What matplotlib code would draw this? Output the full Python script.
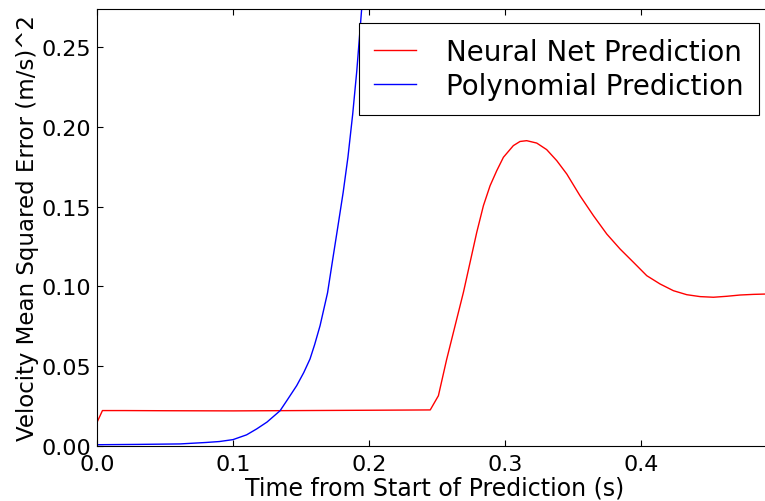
import matplotlib
matplotlib.use("Agg")
import matplotlib.pyplot as plt

# Neural net prediction error
nn_t = [0.0, 0.004, 0.02, 0.05, 0.1, 0.15, 0.2, 0.245, 0.251, 0.257, 0.2645, 0.2694,
        0.2743, 0.2792, 0.2841, 0.2890, 0.2939, 0.2988, 0.3061, 0.3110, 0.3159, 0.3233,
        0.3306, 0.3380, 0.3454, 0.3551, 0.3650, 0.3748, 0.3846, 0.3944, 0.4042, 0.4140,
        0.4238, 0.4336, 0.4434, 0.4532, 0.4630, 0.4728, 0.4826, 0.4912, 0.497]
nn_v = [0.0148, 0.0222, 0.0222, 0.0221, 0.0220, 0.0222, 0.0224, 0.0226, 0.0315, 0.054,
        0.0796, 0.0963, 0.1151, 0.1339, 0.1506, 0.1631, 0.1725, 0.1809, 0.1882, 0.1908,
        0.1913, 0.1898, 0.1857, 0.1788, 0.1704, 0.1568, 0.1443, 0.1328, 0.1234, 0.1151,
        0.1067, 0.1015, 0.0973, 0.0948, 0.0936, 0.0932, 0.0938, 0.0946, 0.0950, 0.0952,
        0.0953]

# Polynomial prediction error
poly_t = [0.0, 0.03, 0.061, 0.08, 0.09, 0.1, 0.11, 0.1174, 0.125, 0.1346, 0.14, 0.1468,
          0.152, 0.1566, 0.160, 0.164, 0.1695, 0.1735, 0.177, 0.181, 0.1845, 0.188, 0.191,
          0.1946, 0.198]
poly_v = [0.0008, 0.001, 0.0013, 0.0022, 0.0028, 0.004, 0.007, 0.0107, 0.0150, 0.0221,
          0.029, 0.0378, 0.046, 0.0545, 0.0635, 0.0754, 0.0960, 0.118, 0.137, 0.159,
          0.181, 0.208, 0.235, 0.274, 0.31]

labels = ["Neural Net Prediction", "Polynomial Prediction"]
xticks = [0.0, 0.1, 0.2, 0.3, 0.4]
xticklabels = ["0.0", "0.1", "0.2", "0.3", "0.4"]
yticks = [0.0, 0.05, 0.10, 0.15, 0.20, 0.25]
yticklabels = ["0.00", "0.05", "0.10", "0.15", "0.20", "0.25"]

plt.rcParams.update({
    "xtick.direction": "in", "ytick.direction": "in",
    "xtick.top": True, "ytick.right": True,
    "xtick.major.size": 4, "ytick.major.size": 4,
    "xtick.major.pad": 6, "ytick.major.pad": 4,
    "axes.edgecolor": "black",
})

fig = plt.figure(figsize=(7.65, 5.02), dpi=100)
ax = fig.add_axes([97/765, 55/502, 676/765, 437/502])
ax.plot(nn_t, nn_v, color="#ff0000", lw=1, label=labels[0])
ax.plot(poly_t, poly_v, color="#0000ff", lw=1, label=labels[1])
ax.set_xlim(0, 0.497)
ax.set_ylim(0, 0.2738)
ax.set_xticks(xticks)
ax.set_xticklabels(xticklabels)
ax.set_yticks(yticks)
ax.set_yticklabels(yticklabels)
ax.tick_params(labelsize=16)
ax.set_xlabel("Time from Start of Prediction (s)", fontsize=17, labelpad=1)
ax.set_ylabel("Velocity Mean Squared Error (m/s)^2", fontsize=16.5, labelpad=2)
leg = ax.legend(loc="upper right", fontsize=20, fancybox=False, framealpha=1,
                edgecolor="black", handlelength=1.5, handletextpad=1.1,
                borderpad=0.55, labelspacing=0.2, borderaxespad=0.5)
leg.get_frame().set_linewidth(0.8)
fig.savefig("out.png", dpi=100, facecolor="white")
